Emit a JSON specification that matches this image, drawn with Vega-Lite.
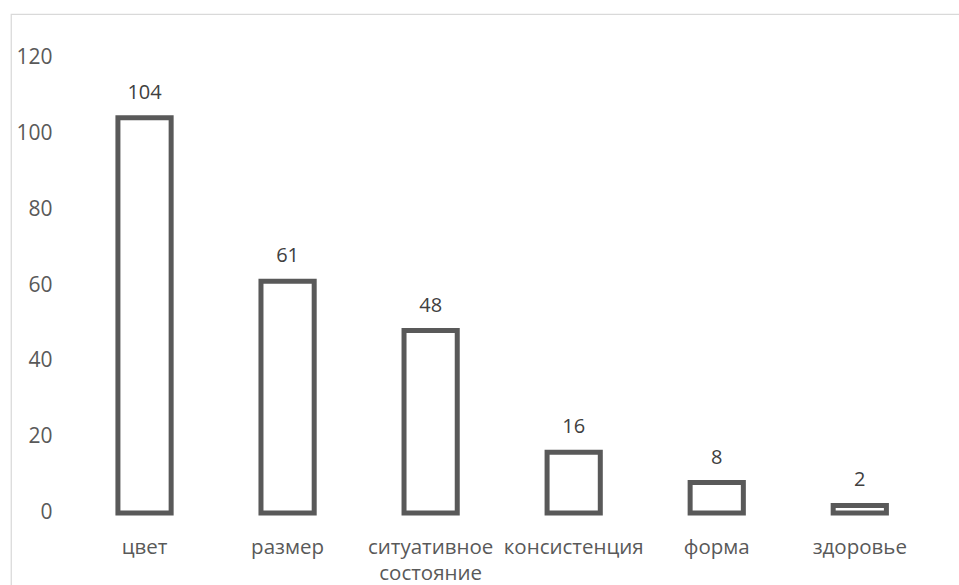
{
  "$schema": "https://vega.github.io/schema/vega-lite/v6.json",
  "width": 951,
  "height": 574,
  "autosize": "none",
  "padding": {"left": 11, "top": 14, "right": -3, "bottom": -3},
  "background": "white",
  "config": {
    "view": {"stroke": "#d9d9d9", "strokeWidth": 1.25},
    "font": "Open Sans"
  },
  "data": {
    "values": [
      {"category": "цвет", "value": 104},
      {"category": "размер", "value": 61},
      {"category": "ситуативное состояние", "value": 48},
      {"category": "консистенция", "value": 16},
      {"category": "форма", "value": 8},
      {"category": "здоровье", "value": 2}
    ]
  },
  "encoding": {
    "x": {
      "field": "category",
      "type": "nominal",
      "sort": null,
      "scale": {"paddingInner": 0.628, "paddingOuter": 0.638, "align": 0.5858},
      "axis": {
        "title": null,
        "orient": "bottom",
        "offset": -75,
        "domain": false,
        "ticks": false,
        "grid": false,
        "labelAngle": 0,
        "labelFont": "Open Sans",
        "labelFontSize": 20.5,
        "labelColor": "#595959",
        "labelPadding": 24,
        "labelLineHeight": 26,
        "labelOverlap": false,
        "labelBound": false,
        "labelExpr": "datum.value == 'ситуативное состояние' ? ['ситуативное', 'состояние'] : datum.label"
      }
    },
    "y": {
      "field": "value",
      "type": "quantitative",
      "scale": {"domain": [-19.737, 131.316], "nice": false, "zero": false},
      "axis": {
        "title": null,
        "orient": "left",
        "offset": -62,
        "values": [0, 20, 40, 60, 80, 100, 120],
        "domain": false,
        "ticks": false,
        "grid": false,
        "labelFont": "Open Sans",
        "labelFontSize": 21,
        "labelColor": "#595959",
        "labelPadding": 21
      }
    }
  },
  "layer": [
    {
      "mark": {"type": "bar", "fill": "white", "stroke": "#595959", "strokeWidth": 5},
      "encoding": {
        "y2": {"datum": 0}
      }
    },
    {
      "mark": {"type": "text", "baseline": "alphabetic", "align": "center", "dy": -19, "fontSize": 20, "font": "Open Sans", "color": "#404040"},
      "encoding": {
        "text": {"field": "value", "type": "quantitative"}
      }
    }
  ]
}
